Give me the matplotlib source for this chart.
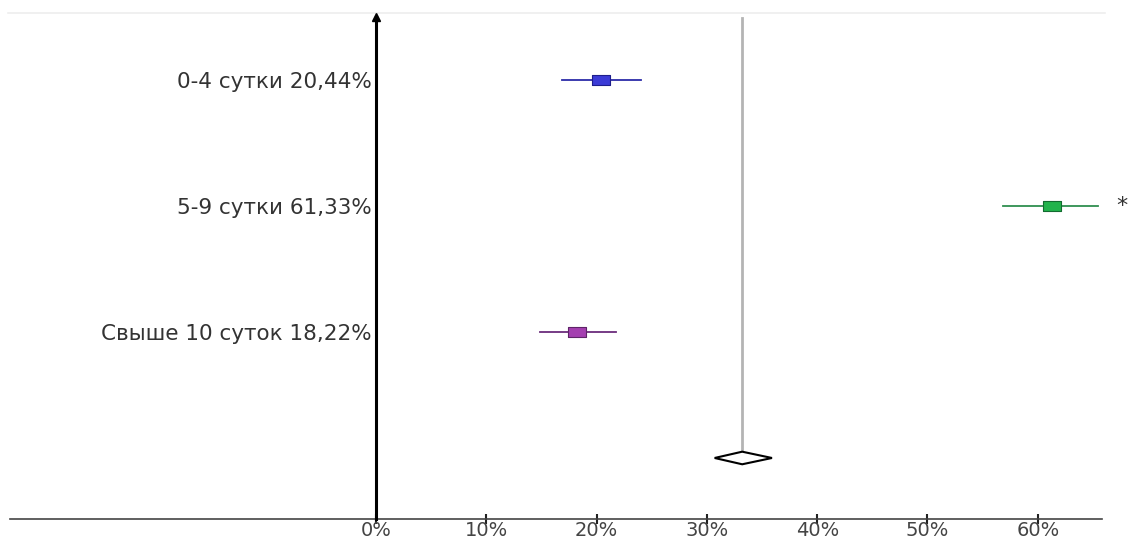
import matplotlib.pyplot as plt
import numpy as np

plt.rcParams['font.family'] = ['DejaVu Sans']

# share of patients by length of stay, with confidence limits (%)
labels = ['0-4 сутки 20,44%', '5-9 сутки 61,33%', 'Свыше 10 суток 18,22%']
share = [20.44, 61.33, 18.22]
ci_low = [16.9, 56.8, 14.9]
ci_high = [24.0, 65.5, 21.8]
face_colors = ['#3b3bd6', '#22b34c', '#a43fb0']
edge_colors = ['#1e1e8c', '#136b30', '#5e2468']
line_colors = ['#2c2ca8', '#2f8f4f', '#6b2c7c']

pooled = 33.2
pooled_low = 30.7
pooled_high = 35.9

xticks = [0, 10, 20, 30, 40, 50, 60]
xticklabels = ['0%', '10%', '20%', '30%', '40%', '50%', '60%']

fig = plt.figure(figsize=(11.31, 5.39), dpi=100)
ax = fig.add_axes([0, 0, 1, 1])
ax.set_xlim(-34.09, 68.45)
ax.set_ylim(3.643, -0.635)

rows = np.arange(len(share))
pooled_row = len(share)
axis_y = pooled_row + 0.484

# confidence interval lines and square markers
box = [(-1.7, -1), (1.7, -1), (1.7, 1), (-1.7, 1), (-1.7, -1)]
for i in rows:
    ax.plot([ci_low[i], ci_high[i]], [i, i], color=line_colors[i], lw=1.3, zorder=2)
    ax.plot(share[i], i, marker=box, markersize=12.5, color=face_colors[i],
            markeredgecolor=edge_colors[i], markeredgewidth=0.8, zorder=3)

# pooled line and diamond
ax.plot([pooled, pooled], [-0.49, pooled_row], color='#b4b4b4', lw=2, zorder=1)
dh = 0.05
ax.fill([pooled_low, pooled, pooled_high, pooled, pooled_low],
        [pooled_row, pooled_row - dh, pooled_row, pooled_row + dh, pooled_row],
        facecolor='white', edgecolor='black', lw=1.5, zorder=3)

# faint line at top
ax.plot([-33.4, 66.1], [-0.532, -0.532], color='#eeeeee', lw=1.2, zorder=0)

# spines as axes
for s in ['top', 'right']:
    ax.spines[s].set_visible(False)
ax.spines['bottom'].set_position(('data', axis_y))
ax.spines['bottom'].set_bounds(-33.2, 65.8)
ax.spines['bottom'].set_color('#444444')
ax.spines['bottom'].set_linewidth(1.2)
ax.spines['left'].set_position(('data', 0))
ax.spines['left'].set_bounds(-0.5, axis_y)
ax.spines['left'].set_linewidth(2.2)
ax.spines['left'].set_zorder(4)
ax.plot(0, -0.5, marker='^', color='black', markersize=6, clip_on=False, zorder=5)

ax.set_xticks(xticks)
ax.set_xticklabels(xticklabels, fontsize=14, color='#444444')
ax.tick_params(axis='x', direction='inout', length=7, width=1.5, color='#222222', pad=-2)

ax.set_yticks(rows)
ax.set_yticklabels(labels, fontsize=15.5, color='#333333')
ax.tick_params(axis='y', length=0, pad=3)

ax.text(67.1, 1, '*', fontsize=16, ha='left', va='center', color='#333333')

fig.savefig('out.png', dpi=100)
